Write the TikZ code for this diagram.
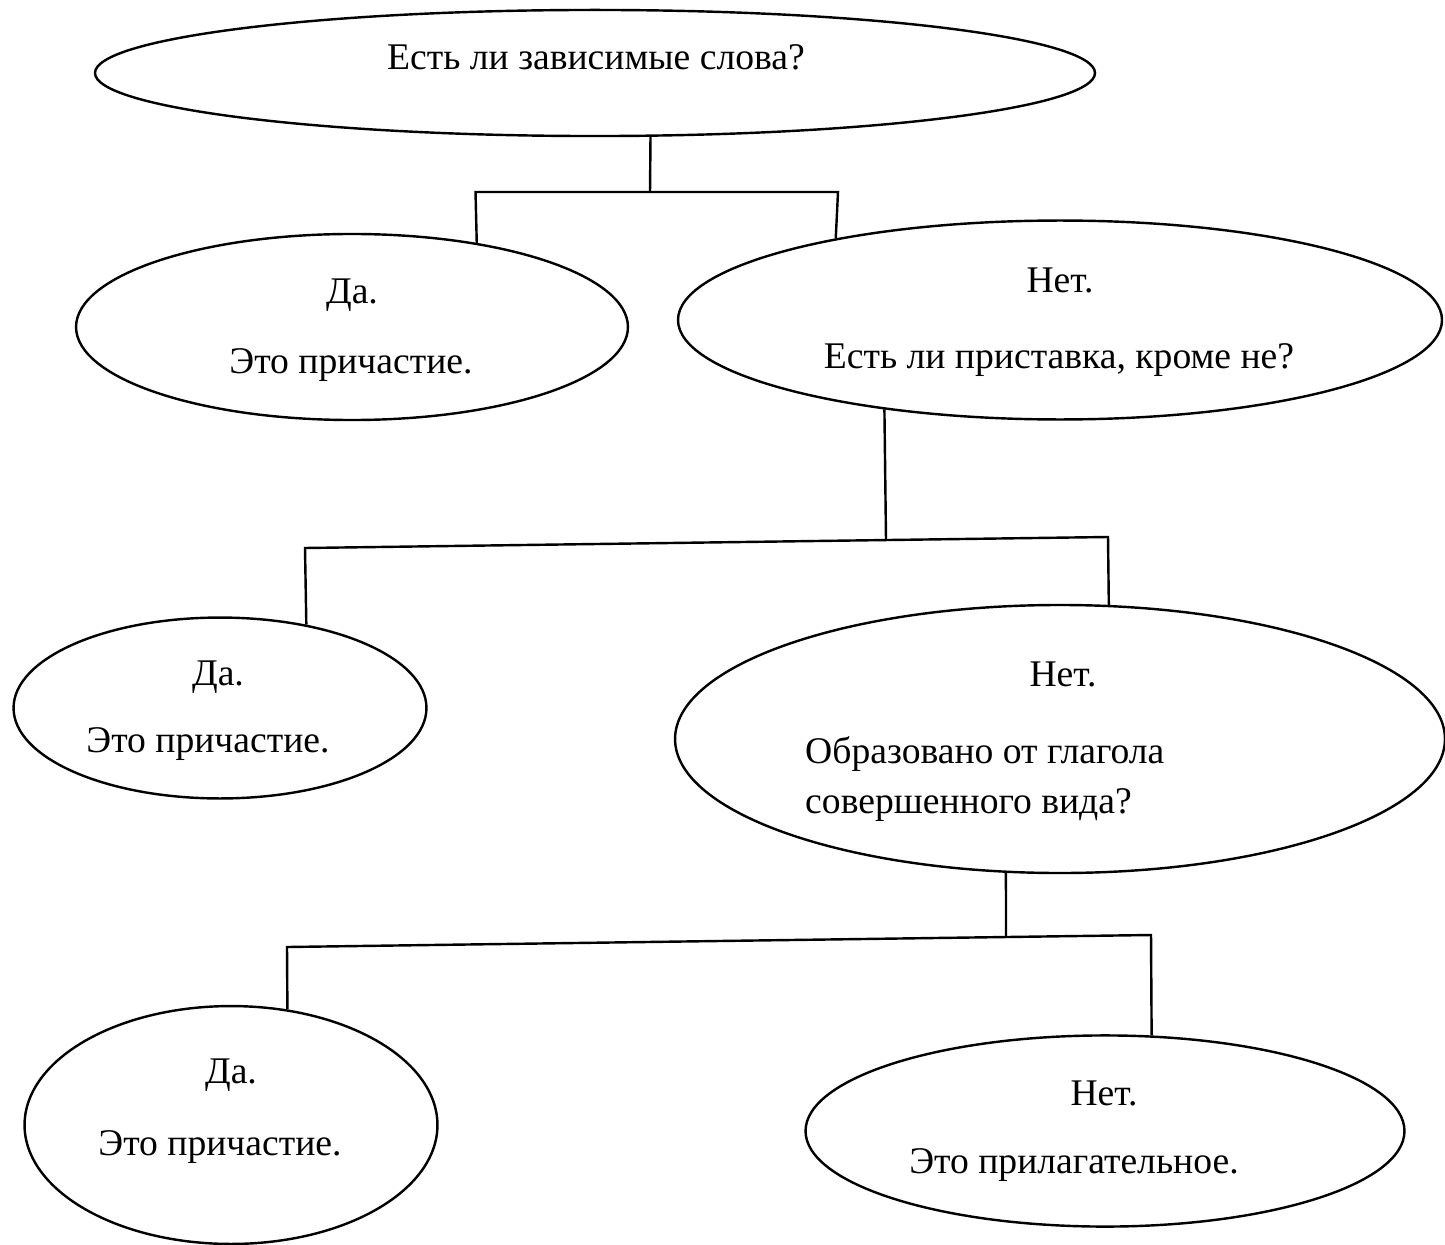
\documentclass[tikz,border=0pt]{standalone}
\usepackage{fontspec}
\setmainfont{Liberation Serif}
\usetikzlibrary{shapes.geometric}

\begin{document}
\begin{tikzpicture}[x=0.372pt, y=-0.372pt, line width=0.9pt,
  oval/.style={draw, ellipse, inner sep=0pt},
  txt/.style={anchor=base, inner sep=0pt, font=\fontsize{14}{16}\selectfont}]
\useasboundingbox (0,0) rectangle (1445,1244);
% ovals
\node[oval, minimum width=372pt, minimum height=46.9pt] (top) at (595,73) {};
\node[oval, minimum width=205.3pt, minimum height=69.2pt] (yes1) at (352,327) {};
\node[oval, minimum width=284.2pt, minimum height=74pt] (no1) at (1060,320) {};
\node[oval, minimum width=153.6pt, minimum height=67.3pt] (yes2) at (220,708) {};
\node[oval, minimum width=286.4pt, minimum height=99.7pt] (no2) at (1060,739) {};
\node[oval, minimum width=153.6pt, minimum height=88.5pt] (yes3) at (231,1125) {};
\node[oval, minimum width=222.8pt, minimum height=71.1pt] (no3) at (1105,1131) {};
% texts
\node[txt] (q1) at (596,70) {Есть ли зависимые слова?};
\node[txt] (yes1a) at (352,303) {Да.};
\node[txt] (yes1b) at (351,373) {Это причастие.};
\node[txt] (no1a) at (1060,292) {Нет.};
\node[txt] (no1b) at (1059,368) {Есть ли приставка, кроме не?};
\node[txt] (yes2a) at (218,685) {Да.};
\node[txt] (yes2b) at (208,752) {Это причастие.};
\node[txt] (no2a) at (1063,686) {Нет.};
\node[txt, anchor=base west] (no2b) at (804,763) {Образовано от глагола};
\node[txt, anchor=base west] (no2c) at (804,813) {совершенного вида?};
\node[txt] (yes3a) at (231,1083) {Да.};
\node[txt] (yes3b) at (220,1155) {Это причастие.};
\node[txt] (no3a) at (1104,1105) {Нет.};
\node[txt] (no3b) at (1074,1173) {Это прилагательное.};
% branch points
\coordinate (j1) at (650,192);
\coordinate (c1l) at (475.5,192);
\coordinate (c1r) at (838,192);
\coordinate (j2) at (886,540);
\coordinate (c2l) at (305,548);
\coordinate (c2r) at (1108,537);
\coordinate (j3) at (1006,937);
\coordinate (c3l) at (287,947);
\coordinate (c3r) at (1151,935);
% lines
\path[draw] (top.-49) -- (j1);
\path[draw] (yes1.34) -- (c1l) -- (c1r) -- (no1.160);
\path[draw] (no1.207) -- (j2);
\path[draw] (yes2.44) -- (c2l) -- (c2r) -- (no2.70);
\path[draw] (no2.248) -- (j3);
\path[draw] (yes3.64) -- (c3l) -- (c3r) -- (no3.64);
\end{tikzpicture}
\end{document}
